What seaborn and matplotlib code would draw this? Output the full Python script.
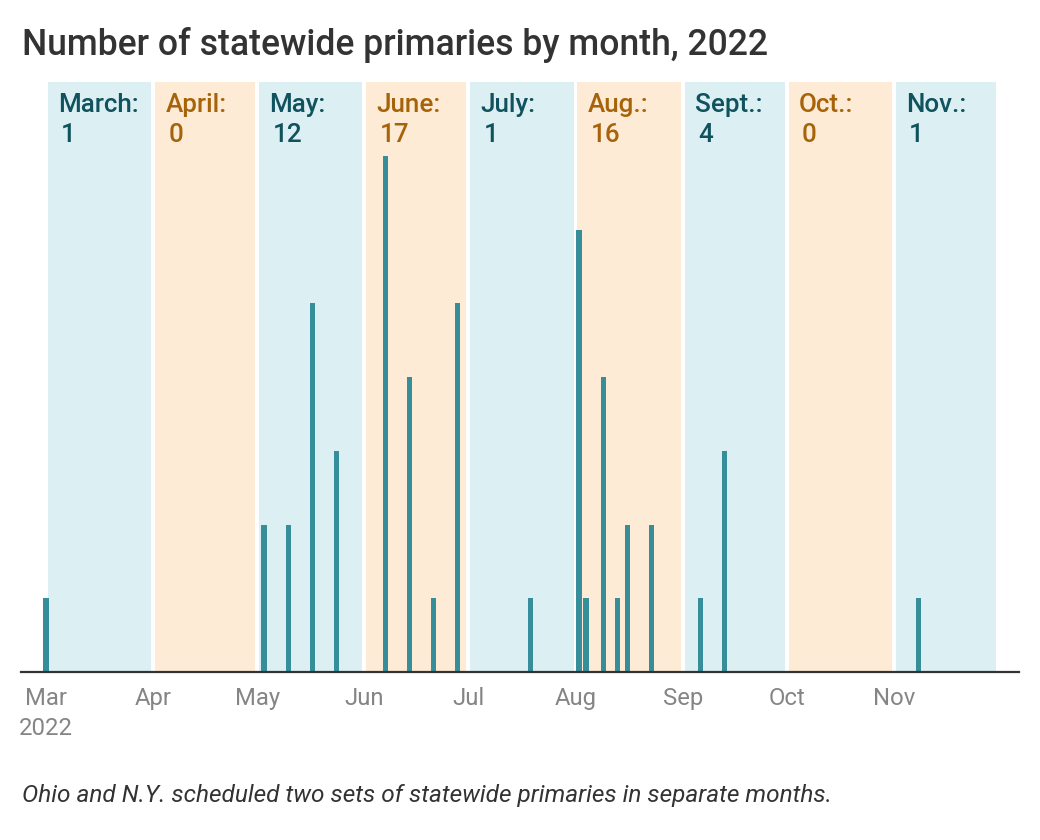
import datetime as dt
import matplotlib
matplotlib.use("Agg")
import matplotlib.pyplot as plt
import matplotlib.dates as mdates
import matplotlib.transforms as mtransforms
import numpy as np
import pandas as pd
import seaborn as sns

# ---- data ----
primary_dates = ["2022-03-01", "2022-05-03", "2022-05-10", "2022-05-17", "2022-05-24",
                 "2022-06-07", "2022-06-14", "2022-06-21", "2022-06-28", "2022-07-19",
                 "2022-08-02", "2022-08-04", "2022-08-09", "2022-08-13", "2022-08-16",
                 "2022-08-23", "2022-09-06", "2022-09-13", "2022-11-08"]
primary_counts = [1, 2, 2, 5, 3, 7, 4, 1, 5, 1, 6, 1, 4, 1, 2, 2, 1, 3, 1]

month_names = ["March:", "April:", "May:", "June:", "July:", "Aug.:", "Sept.:", "Oct.:", "Nov.:"]
month_totals = [1, 0, 12, 17, 1, 16, 4, 0, 1]
month_starts = ["2022-03-01", "2022-04-01", "2022-05-01", "2022-06-01", "2022-07-01",
                "2022-08-01", "2022-09-01", "2022-10-01", "2022-11-01", "2022-12-01"]
tick_labels = ["Mar\n2022", "Apr", "May", "Jun", "Jul", "Aug", "Sep", "Oct", "Nov"]

title = "Number of statewide primaries by month, 2022"
caption = "Ohio and N.Y. scheduled two sets of statewide primaries in separate months."

# ---- style ----
BLUE_BAND = "#dceff3"
ORANGE_BAND = "#feebd5"
BLUE_TEXT = "#10525d"
ORANGE_TEXT = "#a6630a"
BAR = "#368e9a"

sns.set_theme(style="white")
plt.rcParams["font.family"] = ["Roboto", "DejaVu Sans"]

fig = plt.figure(figsize=(10.4, 8.4), dpi=100)
ax = fig.add_axes([21 / 1040, 168 / 840, 998 / 1040, 590 / 840])

df = pd.DataFrame({
    "x": mdates.date2num(pd.to_datetime(primary_dates)),
    "n": primary_counts,
})

ms = mdates.date2num(pd.to_datetime(month_starts))

# month bands
for i in range(len(month_names)):
    band_col = BLUE_BAND if i % 2 == 0 else ORANGE_BAND
    ax.axvspan(ms[i] + 0.55, ms[i + 1] - 0.55, color=band_col, lw=0, zorder=0)

sns.barplot(data=df, x="x", y="n", native_scale=True, width=0.75,
            color=BAR, saturation=1, errorbar=None, ax=ax, zorder=2,
            linewidth=0)

ax.set_xlim(ms[0] - 7.2, ms[-1] + 6.1)
ax.set_ylim(0, 8)

# month labels
trans = mtransforms.blended_transform_factory(ax.transData, ax.transAxes)
for i, (name, tot) in enumerate(zip(month_names, month_totals)):
    col = BLUE_TEXT if i % 2 == 0 else ORANGE_TEXT
    ax.text(ms[i] + 3.6, 0.981, name, transform=trans, ha="left", va="top",
            fontsize=18.7, fontweight="medium", color=col, zorder=3)
    ax.text(ms[i] + 4.4, 0.931, str(tot), transform=trans, ha="left", va="top",
            fontsize=18.7, fontweight="medium", color=col, zorder=3)

ax.set_xticks(ms[:-1])
ax.set_xticklabels(tick_labels, linespacing=1.4)
ax.tick_params(axis="x", length=0, pad=11, labelsize=17.2, labelcolor="#858585")
ax.set_yticks([])
ax.set_xlabel("")
ax.set_ylabel("")
for s in ["top", "left", "right"]:
    ax.spines[s].set_visible(False)
ax.spines["bottom"].set_color("#333333")
ax.spines["bottom"].set_linewidth(1.6)
ax.spines["bottom"].set_zorder(4)

fig.text(22 / 1040, 1 - 55 / 840, title, fontsize=25.6, fontweight="medium",
         color="#333333", ha="left", va="baseline")
fig.text(22 / 1040, 1 - 802 / 840, caption, fontsize=17.6, fontstyle="italic",
         color="#333333", ha="left", va="baseline")

fig.savefig("out.png", dpi=100)
